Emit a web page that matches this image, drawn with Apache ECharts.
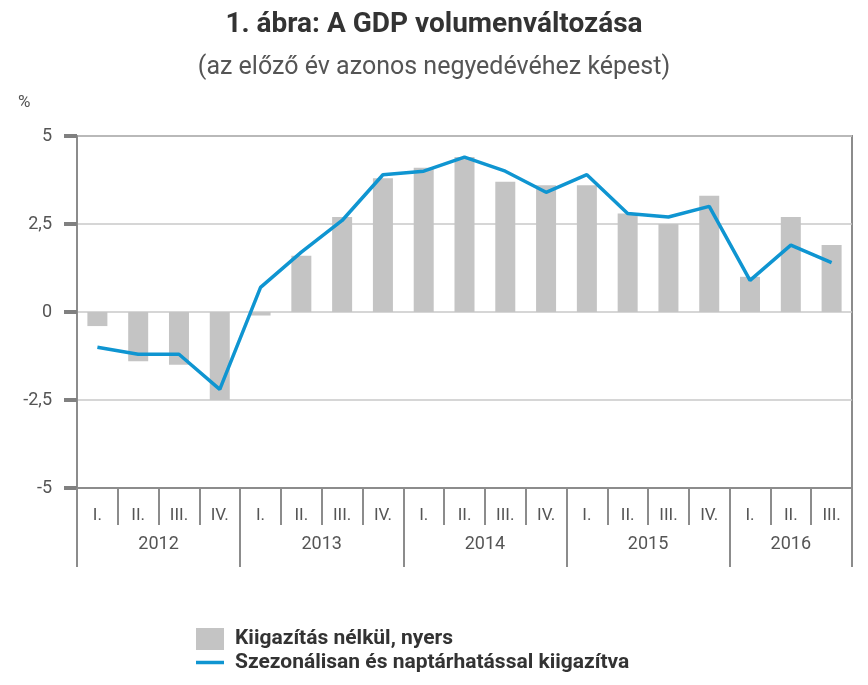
<!DOCTYPE html>
<html>
<head>
<meta charset="utf-8">
<script src="https://cdn.jsdelivr.net/npm/echarts@6/dist/echarts.min.js"></script>
<style>html,body{margin:0;padding:0;background:#fff}#c{width:868px;height:685px}</style>
</head>
<body>
<div id="c"></div>
<script>
var quarters = ['I.','II.','III.','IV.','I.','II.','III.','IV.','I.','II.','III.','IV.','I.','II.','III.','IV.','I.','II.','III.'];
var years = ['2012','2013','2014','2015','2016'];
var quartersPerYear = [4,4,4,4,3];
var rawValues = [-0.4,-1.4,-1.5,-2.5,-0.1,1.6,2.7,3.8,4.1,4.4,3.7,3.6,3.6,2.8,2.5,3.3,1.0,2.7,1.9];
var adjustedValues = [-1.0,-1.2,-1.2,-2.2,0.7,1.7,2.6,3.9,4.0,4.4,4.0,3.4,3.9,2.8,2.7,3.0,0.9,1.9,1.4];
var yTicks = [-5,-2.5,0,2.5,5];
var seriesNames = ['Kiigazítás nélkül, nyers','Szezonálisan és naptárhatással kiigazítva'];

var yearBounds = [0], yearCenters = [];
quartersPerYear.forEach(function(n){
  var s = yearBounds[yearBounds.length-1];
  yearCenters.push(s + n/2);
  yearBounds.push(s + n);
});

var font = 'Roboto';
var chart = echarts.init(document.getElementById('c'));
chart.setOption({
  animation: false,
  textStyle: {fontFamily: font},
  title: [
    {text: '1. ábra: A GDP volumenváltozása', left: 'center', top: 6,
     textStyle: {fontSize: 28, fontWeight: 'bold', color: '#333', fontFamily: font}},
    {text: '(az előző év azonos negyedévéhez képest)', left: 'center', top: 50,
     textStyle: {fontSize: 25, fontWeight: 'normal', color: '#555', fontFamily: font}}
  ],
  graphic: [{type: 'text', left: 18, top: 94, style: {text: '%', fontSize: 17, fill: '#555', fontFamily: font}}],
  legend: {
    orient: 'vertical', left: 196, top: 628, padding: 0, itemWidth: 28, itemHeight: 22, itemGap: 2,
    textStyle: {fontSize: 21, fontWeight: 'bold', color: '#333', fontFamily: font, padding: [0,0,0,6]},
    data: [
      {name: seriesNames[0], icon: 'rect'},
      {name: seriesNames[1], icon: 'path://M0,0H28V3.5H0Z'}
    ]
  },
  grid: {left: 77, right: 16, top: 136, bottom: 197, show: true, borderColor: '#8c8c8c', borderWidth: 2},
  xAxis: [
    {type: 'category', data: quarters, position: 'bottom', boundaryGap: true,
     axisLine: {show: true, onZero: false, lineStyle: {color: '#8c8c8c', width: 2}},
     axisTick: {show: true, interval: 0, length: 37, lineStyle: {color: '#8c8c8c', width: 2}},
     axisLabel: {interval: 0, margin: 19, fontSize: 17, color: '#555', fontFamily: font},
     splitLine: {show: false}},
    {type: 'value', min: 0, max: quarters.length, position: 'bottom',
     axisLine: {show: false, onZero: false},
     axisTick: {show: true, customValues: yearBounds, length: 79, lineStyle: {color: '#8c8c8c', width: 2}},
     axisLabel: {show: true, customValues: yearCenters, margin: 47, fontSize: 18, color: '#555', fontFamily: font,
       formatter: function(v){ var i = yearCenters.indexOf(v); return i >= 0 ? years[i] : ''; }},
     splitLine: {show: false}}
  ],
  yAxis: {
    type: 'value', min: -5, max: 5, interval: 2.5,
    axisLine: {show: true, lineStyle: {color: '#8c8c8c', width: 2}},
    axisTick: {show: true, length: 13, lineStyle: {color: '#808080', width: 4}},
    axisLabel: {margin: 25, fontSize: 18, color: '#555', fontFamily: font,
      formatter: function(v){ return String(v).replace('.', ','); }},
    splitLine: {show: true, lineStyle: {color: '#c8c8c8', width: 1.5}}
  },
  series: [
    {name: seriesNames[0], type: 'bar', xAxisIndex: 0, data: rawValues, barWidth: 20,
     itemStyle: {color: '#c4c4c4'}},
    {name: seriesNames[1], type: 'line', xAxisIndex: 0, data: adjustedValues, symbol: 'none',
     lineStyle: {color: '#0f95d1', width: 3.5}, itemStyle: {color: '#0f95d1'}}
  ]
});
</script>
</body>
</html>
